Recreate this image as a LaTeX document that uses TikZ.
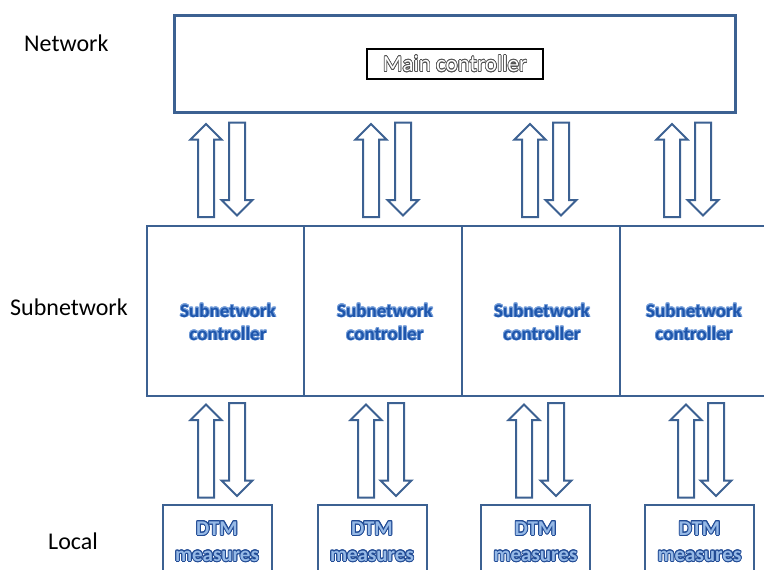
\documentclass[tikz,border=0pt]{standalone}
\usepackage{fontspec}
\setmainfont{Carlito}
\usepackage{contour}
\usetikzlibrary{shapes.arrows}

\definecolor{boxblue}{RGB}{60,97,146}
\definecolor{subtext}{RGB}{30,86,172}
\definecolor{subhalo}{RGB}{120,160,218}
\definecolor{dtmedge}{RGB}{32,74,148}
\definecolor{dtmfill}{RGB}{150,185,230}
\definecolor{mcedge}{RGB}{80,80,80}

\newcommand{\subtxt}[1]{\contourlength{0.8pt}\contour{subhalo}{\textcolor{subtext}{#1}}}
\newcommand{\dtmtxt}[1]{\contourlength{0.85pt}\contour{dtmedge}{\textcolor{dtmfill}{#1}}}
\newcommand{\mctxt}[1]{\contourlength{0.65pt}\contour{mcedge}{\textcolor{white}{#1}}}

\begin{document}
\begin{tikzpicture}[x=1pt,y=-1pt,
  layerlabel/.style={font=\fontsize{24}{28}\selectfont, anchor=west, inner sep=0pt},
  mainbox/.style={draw=boxblue, line width=3pt, minimum width=561pt, minimum height=97pt, inner sep=0pt},
  mcbox/.style={draw=black, line width=1.8pt, minimum width=176pt, minimum height=30pt, inner sep=0pt,
    font=\fontsize{23}{26}\selectfont},
  subbox/.style={draw=boxblue, line width=2pt, minimum height=170pt, inner sep=0pt},
  subtext/.style={font=\bfseries\fontsize{19}{23}\selectfont, align=center, inner sep=0pt},
  dtmbox/.style={draw=boxblue, line width=2pt, minimum width=109pt, minimum height=90pt, inner sep=0pt},
  dtmtext/.style={font=\bfseries\fontsize{21}{26}\selectfont, align=center, inner sep=0pt},
  blockarrow/.style={single arrow, draw=boxblue, line width=2pt, fill=white,
    minimum height=93pt, minimum width=29pt, inner sep=7pt,
    single arrow head extend=7.5pt, single arrow head indent=0pt},
  uparr/.style={blockarrow, rotate=90},
  downarr/.style={blockarrow, rotate=-90}]
\useasboundingbox (0,0) rectangle (764,570);

% layer names
\node[layerlabel] (lnet) at (24,43) {Network};
\node[layerlabel] (lsub) at (10,307) {Subnetwork};
\node[layerlabel] (lloc) at (48,541) {Local};

% network layer
\node[mainbox] (main) at (454.5,63.5) {};
\node[mcbox] (mc) at (455,64) {\mctxt{Main controller}};

% subnetwork layer
\node[subbox, minimum width=157pt] (sub1) at (225.5,311) {};
\node[subbox, minimum width=158pt] (sub2) at (383,311) {};
\node[subbox, minimum width=158pt] (sub3) at (541,311) {};
\node[subbox, minimum width=150pt] (sub4) at (695,311) {};
\node[subtext] (st1) at (228,322.5) {\subtxt{Subnetwork}\\\subtxt{controller}};
\node[subtext] (st2) at (385,322.5) {\subtxt{Subnetwork}\\\subtxt{controller}};
\node[subtext] (st3) at (542,322.5) {\subtxt{Subnetwork}\\\subtxt{controller}};
\node[subtext] (st4) at (694,322.5) {\subtxt{Subnetwork}\\\subtxt{controller}};

% local layer
\node[dtmbox] (dtm1) at (217,550) {};
\node[dtmbox] (dtm2) at (372,550) {};
\node[dtmbox] (dtm3) at (535.5,550) {};
\node[dtmbox] (dtm4) at (699.5,550) {};
\node[dtmtext] (dt1) at (217,542) {\dtmtxt{DTM}\\\dtmtxt{measures}};
\node[dtmtext] (dt2) at (372,542) {\dtmtxt{DTM}\\\dtmtxt{measures}};
\node[dtmtext] (dt3) at (535.5,542) {\dtmtxt{DTM}\\\dtmtxt{measures}};
\node[dtmtext] (dt4) at (699.5,542) {\dtmtxt{DTM}\\\dtmtxt{measures}};

% links between network and subnetworks
\node[uparr]   (nu1) at (206,174.5) {};
\node[downarr] (nd1) at (237,165) {};
\node[uparr]   (nu2) at (371,174.5) {};
\node[downarr] (nd2) at (403,165) {};
\node[uparr]   (nu3) at (530,174.5) {};
\node[downarr] (nd3) at (561,165) {};
\node[uparr]   (nu4) at (672,174.5) {};
\node[downarr] (nd4) at (703,165) {};

% links between subnetworks and local measures
\node[uparr]   (lu1) at (206,455) {};
\node[downarr] (ld1) at (237,445.5) {};
\node[uparr]   (lu2) at (366,455) {};
\node[downarr] (ld2) at (396,445.5) {};
\node[uparr]   (lu3) at (524,455) {};
\node[downarr] (ld3) at (556,445.5) {};
\node[uparr]   (lu4) at (686,455) {};
\node[downarr] (ld4) at (716,445.5) {};
\end{tikzpicture}
\end{document}
